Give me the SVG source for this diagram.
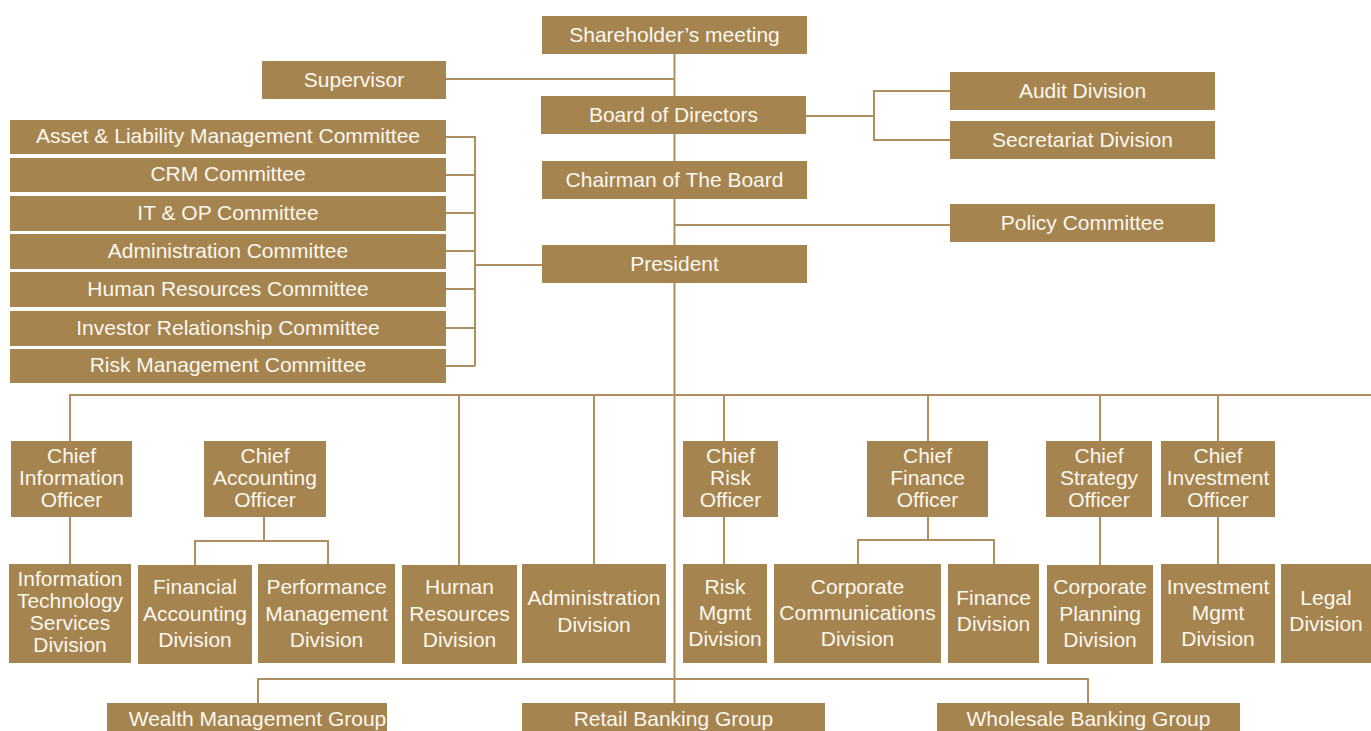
<svg xmlns="http://www.w3.org/2000/svg" width="1371" height="731" viewBox="0 0 1371 731">
<style>
.b{fill:#a58450}
.t{fill:#fcf8ef;font-family:"Liberation Sans",Arial,sans-serif;font-size:21px;text-anchor:middle}
.c{fill:none;stroke:#ae8f5f;stroke-width:2}
</style>
<rect width="1371" height="731" fill="#ffffff"/>
<g id="connectors" class="c">
<path d="M674.5 53V731"/>
<path d="M446 79H674.5"/>
<path d="M806 116H874M950 91H874V140H950"/>
<path d="M674.5 225H950"/>
<path d="M446 137H475M446 175H475M446 213H475M446 251H475M446 289H475M446 328H475M446 366H475M475 136V366M475 265H542"/>
<path d="M70 441V395H1371M459 395V565M594 395V564M724 395V441M928 395V441M1100 395V441M1218 395V441"/>
<path d="M70 517V564M724 517V564M1100 517V565M1218 517V564"/>
<path d="M264 517V541M195 565V541H328V564"/>
<path d="M928 517V540M858 564V540H994V564"/>
<path d="M258 703V679H1088V703"/>
</g>
<g id="shareholders"><rect class="b" x="542" y="16" width="265" height="38"/><text class="t" x="674.5" y="42">Shareholder’s meeting</text></g>
<g id="supervisor"><rect class="b" x="262" y="61" width="184" height="38"/><text class="t" x="354" y="87">Supervisor</text></g>
<g id="board"><rect class="b" x="541" y="96" width="265" height="38"/><text class="t" x="673.5" y="122">Board of Directors</text></g>
<g id="chairman"><rect class="b" x="542" y="161" width="265" height="38"/><text class="t" x="674.5" y="187">Chairman of The Board</text></g>
<g id="president"><rect class="b" x="542" y="245" width="265" height="38"/><text class="t" x="674.5" y="271">President</text></g>
<g id="audit"><rect class="b" x="950" y="72" width="265" height="38"/><text class="t" x="1082.5" y="98">Audit Division</text></g>
<g id="secretariat"><rect class="b" x="950" y="121" width="265" height="38"/><text class="t" x="1082.5" y="147">Secretariat Division</text></g>
<g id="policy"><rect class="b" x="950" y="204" width="265" height="38"/><text class="t" x="1082.5" y="230">Policy Committee</text></g>
<g id="alm"><rect class="b" x="10" y="120" width="436" height="34"/><text class="t" x="228" y="143">Asset &amp; Liability Management Committee</text></g>
<g id="crm"><rect class="b" x="10" y="158" width="436" height="34"/><text class="t" x="228" y="181">CRM Committee</text></g>
<g id="itop"><rect class="b" x="10" y="196" width="436" height="35"/><text class="t" x="228" y="220">IT &amp; OP Committee</text></g>
<g id="admincom"><rect class="b" x="10" y="234" width="436" height="35"/><text class="t" x="228" y="258">Administration Committee</text></g>
<g id="hrcom"><rect class="b" x="10" y="272" width="436" height="35"/><text class="t" x="228" y="296">Human Resources Committee</text></g>
<g id="ircom"><rect class="b" x="10" y="311" width="436" height="35"/><text class="t" x="228" y="335">Investor Relationship Committee</text></g>
<g id="riskcom"><rect class="b" x="10" y="349" width="436" height="34"/><text class="t" x="228" y="372">Risk Management Committee</text></g>
<g id="cio"><rect class="b" x="11" y="441" width="121" height="76"/><text class="t"><tspan x="71.5" y="463">Chief</tspan><tspan x="71.5" y="485">Information</tspan><tspan x="71.5" y="507">Officer</tspan></text></g>
<g id="cao"><rect class="b" x="204" y="441" width="122" height="76"/><text class="t"><tspan x="265" y="463">Chief</tspan><tspan x="265" y="485">Accounting</tspan><tspan x="265" y="507">Officer</tspan></text></g>
<g id="cro"><rect class="b" x="683" y="441" width="95" height="76"/><text class="t"><tspan x="730.5" y="463">Chief</tspan><tspan x="730.5" y="485">Risk</tspan><tspan x="730.5" y="507">Officer</tspan></text></g>
<g id="cfo"><rect class="b" x="867" y="441" width="121" height="76"/><text class="t"><tspan x="927.5" y="463">Chief</tspan><tspan x="927.5" y="485">Finance</tspan><tspan x="927.5" y="507">Officer</tspan></text></g>
<g id="cso"><rect class="b" x="1046" y="441" width="106" height="76"/><text class="t"><tspan x="1099" y="463">Chief</tspan><tspan x="1099" y="485">Strategy</tspan><tspan x="1099" y="507">Officer</tspan></text></g>
<g id="cinvo"><rect class="b" x="1161" y="441" width="114" height="76"/><text class="t"><tspan x="1218" y="463">Chief</tspan><tspan x="1218" y="485">Investment</tspan><tspan x="1218" y="507">Officer</tspan></text></g>
<g id="itsd"><rect class="b" x="9" y="564" width="122" height="99"/><text class="t"><tspan x="70" y="586">Information</tspan><tspan x="70" y="608">Technology</tspan><tspan x="70" y="630">Services</tspan><tspan x="70" y="652">Division</tspan></text></g>
<g id="fad"><rect class="b" x="138" y="565" width="114" height="99"/><text class="t"><tspan x="195" y="594">Financial</tspan><tspan x="195" y="621">Accounting</tspan><tspan x="195" y="647">Division</tspan></text></g>
<g id="pmd"><rect class="b" x="258" y="564" width="137" height="99"/><text class="t"><tspan x="326.5" y="594">Performance</tspan><tspan x="326.5" y="621">Management</tspan><tspan x="326.5" y="647">Division</tspan></text></g>
<g id="hrd"><rect class="b" x="402" y="565" width="115" height="99"/><text class="t"><tspan x="459.5" y="594">Hurnan</tspan><tspan x="459.5" y="621">Resources</tspan><tspan x="459.5" y="647">Division</tspan></text></g>
<g id="admd"><rect class="b" x="522" y="564" width="144" height="99"/><text class="t"><tspan x="594" y="605">Administration</tspan><tspan x="594" y="632">Division</tspan></text></g>
<g id="rmd"><rect class="b" x="683" y="564" width="84" height="99"/><text class="t"><tspan x="725" y="594">Risk</tspan><tspan x="725" y="620">Mgmt</tspan><tspan x="725" y="646">Division</tspan></text></g>
<g id="ccd"><rect class="b" x="774" y="564" width="167" height="99"/><text class="t"><tspan x="857.5" y="594">Corporate</tspan><tspan x="857.5" y="620">Communications</tspan><tspan x="857.5" y="646">Division</tspan></text></g>
<g id="fd"><rect class="b" x="948" y="564" width="91" height="99"/><text class="t"><tspan x="993.5" y="605">Finance</tspan><tspan x="993.5" y="631">Division</tspan></text></g>
<g id="cpd"><rect class="b" x="1047" y="565" width="106" height="99"/><text class="t"><tspan x="1100" y="594">Corporate</tspan><tspan x="1100" y="621">Planning</tspan><tspan x="1100" y="647">Division</tspan></text></g>
<g id="imd"><rect class="b" x="1161" y="564" width="114" height="99"/><text class="t"><tspan x="1218" y="594">Investment</tspan><tspan x="1218" y="620">Mgmt</tspan><tspan x="1218" y="646">Division</tspan></text></g>
<g id="legal"><rect class="b" x="1281" y="564" width="90" height="99"/><text class="t"><tspan x="1326" y="605">Legal</tspan><tspan x="1326" y="631">Division</tspan></text></g>
<g id="wealth"><rect class="b" x="107" y="703" width="280" height="30"/><text class="t" x="257.5" y="726">Wealth Management Group</text></g>
<g id="retail"><rect class="b" x="522" y="703" width="303" height="30"/><text class="t" x="673.5" y="726">Retail Banking Group</text></g>
<g id="wholesale"><rect class="b" x="937" y="703" width="303" height="30"/><text class="t" x="1088.5" y="726">Wholesale Banking Group</text></g>
</svg>
